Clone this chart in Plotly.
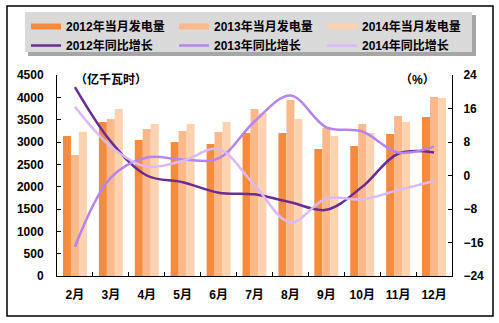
import plotly.graph_objects as go

# Monthly generation (100 million kWh) and year-on-year growth (%)
months = ["2月", "3月", "4月", "5月", "6月", "7月", "8月", "9月", "10月", "11月", "12月"]

gen_2012 = [3134, 3448, 3045, 3000, 2955, 3201, 3201, 2843, 2910, 3179, 3560]
gen_2013 = [2709, 3515, 3291, 3246, 3224, 3739, 3940, 3313, 3403, 3582, 4007]
gen_2014 = [3231, 3739, 3403, 3403, 3448, 3649, 3515, 3134, 3201, 3448, 3985]

yoy_2012 = [21.1, 8.1, 0.0, -1.6, -4.1, -4.5, -6.4, -8.2, -2.7, 5.2, 5.5]
yoy_2013 = [-17.0, -0.5, 4.3, 3.8, 4.1, 12.9, 19.1, 11.5, 10.5, 5.5, 6.9]
yoy_2014 = [16.4, 6.9, 2.1, 3.5, 6.3, -2.3, -11.2, -5.5, -5.7, -3.5, -1.3]

bar_names = ["2012年当月发电量", "2013年当月发电量", "2014年当月发电量"]
line_names = ["2012年同比增长", "2013年同比增长", "2014年同比增长"]

bar_colors = ["#F68B3E", "#F9B98A", "#FCD3B0"]
line_colors = ["#6B2C93", "#B584F0", "#D9BAF6"]

FONT = "Arial, 'Liberation Sans', 'Noto Sans CJK SC', sans-serif"

W, H = 499, 323
L, R, T, B = 57, 47, 75, 47
PW, PH = W - L - R, H - T - B


def px_x(x):
    return (x - L) / PW


def px_y(y):
    return (H - B - y) / PH


fig = go.Figure()

for name, vals, col in zip(bar_names, [gen_2012, gen_2013, gen_2014], bar_colors):
    fig.add_trace(go.Bar(x=months, y=vals, name=name, marker=dict(color=col, line=dict(width=0)),
                         showlegend=False))

# legend entries for the bars, drawn as thick swatches
for name, col in zip(bar_names, bar_colors):
    fig.add_trace(go.Scatter(x=[None], y=[None], mode="lines", name=name,
                             line=dict(color=col, width=6), showlegend=True))

for name, vals, col in zip(line_names, [yoy_2012, yoy_2013, yoy_2014], line_colors):
    fig.add_trace(go.Scatter(x=months, y=vals, name=name, yaxis="y2", mode="lines",
                             line=dict(color=col, width=2.5, shape="spline", smoothing=1.0)))

shapes = [
    # outer frame
    dict(type="rect", xref="paper", yref="paper", x0=px_x(7), x1=px_x(493), y0=px_y(316), y1=px_y(6),
         line=dict(color="black", width=1.5), fillcolor="rgba(0,0,0,0)", layer="below"),
    # legend shadow and box
    dict(type="rect", xref="paper", yref="paper", x0=px_x(28), x1=px_x(476), y0=px_y(56), y1=px_y(15),
         line=dict(width=0), fillcolor="#A6A6A6", layer="above"),
    dict(type="rect", xref="paper", yref="paper", x0=px_x(25), x1=px_x(472), y0=px_y(52), y1=px_y(12),
         line=dict(width=0), fillcolor="#D9D9D9", layer="above"),
]

annotations = [
    dict(text="（亿千瓦时）", xref="paper", yref="paper", x=px_x(73), y=px_y(79), xanchor="left",
         yanchor="middle", showarrow=False, font=dict(family=FONT, size=12, color="black", weight="bold")),
    dict(text="（%）", xref="paper", yref="paper", x=px_x(437), y=px_y(80), xanchor="right",
         yanchor="middle", showarrow=False, font=dict(family=FONT, size=12, color="black", weight="bold")),
]

fig.update_layout(
    width=W, height=H,
    margin=dict(l=L, r=R, t=T, b=B, pad=0),
    paper_bgcolor="white", plot_bgcolor="white",
    barmode="group", bargap=0.333, bargroupgap=0,
    font=dict(family=FONT, size=12, color="black"),
    shapes=shapes, annotations=annotations,
    legend=dict(orientation="h", x=px_x(26), y=px_y(12), xanchor="left", yanchor="top",
                bgcolor="rgba(0,0,0,0)", entrywidth=103, entrywidthmode="pixels",
                traceorder="normal", itemwidth=30, tracegroupgap=0,
                font=dict(family=FONT, size=12, color="black", weight="bold")),
    xaxis=dict(type="category", showline=True, linecolor="black", linewidth=1,
               ticks="inside", tickson="boundaries", ticklen=4, tickcolor="black",
               showgrid=False, ticklabelstandoff=8,
               tickfont=dict(family=FONT, size=12, color="black", weight="bold")),
    yaxis=dict(range=[0, 4500], dtick=500, showline=True, linecolor="black", linewidth=1,
               ticks="inside", ticklen=4, tickcolor="black", showgrid=False, zeroline=False,
               ticklabelstandoff=10,
               tickfont=dict(family=FONT, size=12, color="black", weight="bold")),
    yaxis2=dict(range=[-24, 24], dtick=8, overlaying="y", side="right", showline=True,
                linecolor="black", linewidth=1, ticks="inside", ticklen=4, tickcolor="black",
                showgrid=False, zeroline=False, ticklabelstandoff=8,
                tickfont=dict(family=FONT, size=12, color="black", weight="bold")),
)

fig.write_html("out.html")
